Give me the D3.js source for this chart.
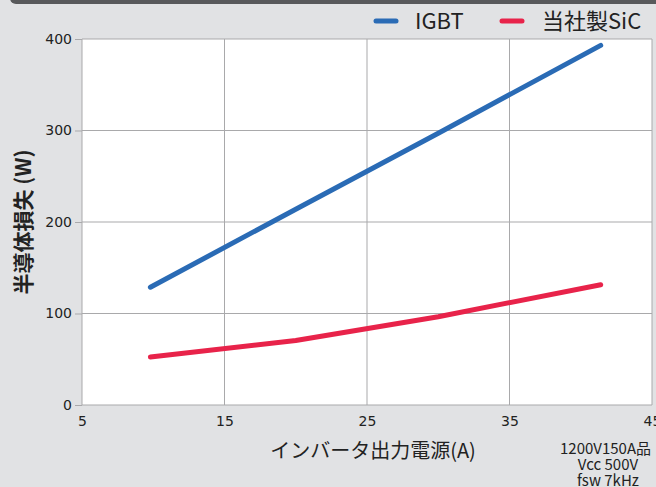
<!DOCTYPE html>
<html>
<head>
<meta charset="utf-8">
<script src="https://cdn.jsdelivr.net/npm/d3@7"></script>
<style>
  body { margin: 0; background: #e1e2e4; }
  svg { display: block; }
</style>
</head>
<body>
<div id="chart"></div>
<script>
var width = 656, height = 487
var margin = {top: 39, right: 4, bottom: 82, left: 82}

// data
var seriesNames = ['IGBT', '当社製SiC']
var seriesColors = ['#2a6bb5', '#e8234a']
var current = [9.8, 20, 30, 41.4]
var igbtLoss = [128.7, 214, 297, 393]
var sicLoss = [52.4, 70.5, 96.5, 131.5]
var xTicks = [5, 15, 25, 35, 45]
var yTicks = [0, 100, 200, 300, 400]
var notes = ['1200V150A品', 'Vcc 500V', 'fsw 7kHz']

var jp = '"Noto Sans CJK JP", "Noto Sans", sans-serif'
var num = '"DejaVu Sans", sans-serif'

var svg = d3.select("#chart")
  .append("svg")
  .attr("width", width)
  .attr("height", height)

// dark bar at the top
svg.append("rect")
  .attr("x", 10)
  .attr("y", -12)
  .attr("width", width)
  .attr("height", 16)
  .attr("rx", 6)
  .attr("fill", "#58595b")

var xScale = d3.scaleLinear()
  .domain([5, 45])
  .range([margin.left, width - margin.right])

var yScale = d3.scaleLinear()
  .domain([0, 400])
  .range([height - margin.bottom, margin.top])

// plot area
svg.append("rect")
  .attr("x", xScale(5))
  .attr("y", yScale(400))
  .attr("width", xScale(45) - xScale(5))
  .attr("height", yScale(0) - yScale(400))
  .attr("fill", "white")

// grid
svg.append("g")
  .selectAll("line")
  .data(xTicks)
  .enter()
  .append("line")
  .attr("x1", d => xScale(d))
  .attr("x2", d => xScale(d))
  .attr("y1", yScale(0))
  .attr("y2", yScale(400))
  .attr("stroke", "#a9a9ab")
  .attr("stroke-width", 1)

svg.append("g")
  .selectAll("line")
  .data(yTicks)
  .enter()
  .append("line")
  .attr("x1", xScale(5))
  .attr("x2", xScale(45))
  .attr("y1", d => yScale(d))
  .attr("y2", d => yScale(d))
  .attr("stroke", "#a9a9ab")
  .attr("stroke-width", 1)

// y axis
var yAxis = d3.axisLeft(yScale)
  .tickValues(yTicks)
  .tickSize(7)
  .tickPadding(3)

svg.append("g")
  .attr("transform", `translate(${margin.left},0)`)
  .call(yAxis)
  .call(g => g.select(".domain").remove())
  .call(g => g.selectAll("line").attr("stroke", "#a9a9ab"))
  .selectAll("text")
  .attr("font-family", num)
  .attr("font-size", "14px")
  .attr("fill", "#222")

// x axis
var xAxis = d3.axisBottom(xScale)
  .tickValues(xTicks)
  .tickSize(0)
  .tickPadding(11)

svg.append("g")
  .attr("transform", `translate(0,${height - margin.bottom})`)
  .call(xAxis)
  .call(g => g.select(".domain").remove())
  .selectAll("text")
  .attr("font-family", num)
  .attr("font-size", "14px")
  .attr("fill", "#222")

// lines
var line = d3.line()
  .x(d => xScale(d[0]))
  .y(d => yScale(d[1]))

var series = [
  d3.zip(current, igbtLoss),
  d3.zip(current, sicLoss)
]

svg.selectAll("path.series")
  .data(series)
  .enter()
  .append("path")
  .attr("class", "series")
  .attr("d", line)
  .attr("fill", "none")
  .attr("stroke", (d, i) => seriesColors[i])
  .attr("stroke-width", 5)
  .attr("stroke-linecap", "round")
  .attr("stroke-linejoin", "round")

// legend
var legendX = [374, 500]
var legend = svg.selectAll("g.legend")
  .data(seriesNames)
  .enter()
  .append("g")
  .attr("class", "legend")
  .attr("transform", (d, i) => `translate(${legendX[i]},21)`)

legend.append("line")
  .attr("x1", 2)
  .attr("x2", 22)
  .attr("stroke", (d, i) => seriesColors[i])
  .attr("stroke-width", 5)
  .attr("stroke-linecap", "round")

legend.append("text")
  .text(d => d)
  .attr("x", (d, i) => i === 0 ? 41 : 42)
  .attr("y", 8)
  .attr("font-family", jp)
  .attr("font-size", "22px")
  .attr("fill", "#222")

// axis titles
svg.append("text")
  .text("インバータ出力電源(A)")
  .attr("x", 373)
  .attr("y", 458)
  .attr("text-anchor", "middle")
  .attr("font-family", jp)
  .attr("font-size", "20px")
  .attr("fill", "#222")

svg.append("text")
  .text("半導体損失 (W)")
  .attr("transform", "translate(31,222) rotate(-90)")
  .attr("text-anchor", "middle")
  .attr("font-family", jp)
  .attr("font-weight", "bold")
  .attr("font-size", "21px")
  .attr("fill", "#222")

// conditions
svg.append("g")
  .selectAll("text")
  .data(notes)
  .enter()
  .append("text")
  .text(d => d)
  .attr("x", (d, i) => i === 0 ? 560 : 608)
  .attr("y", (d, i) => 454 + i * 16)
  .attr("text-anchor", (d, i) => i === 0 ? "start" : "middle")
  .attr("font-family", jp)
  .attr("font-size", "15px")
  .attr("fill", "#222")
</script>
</body>
</html>
